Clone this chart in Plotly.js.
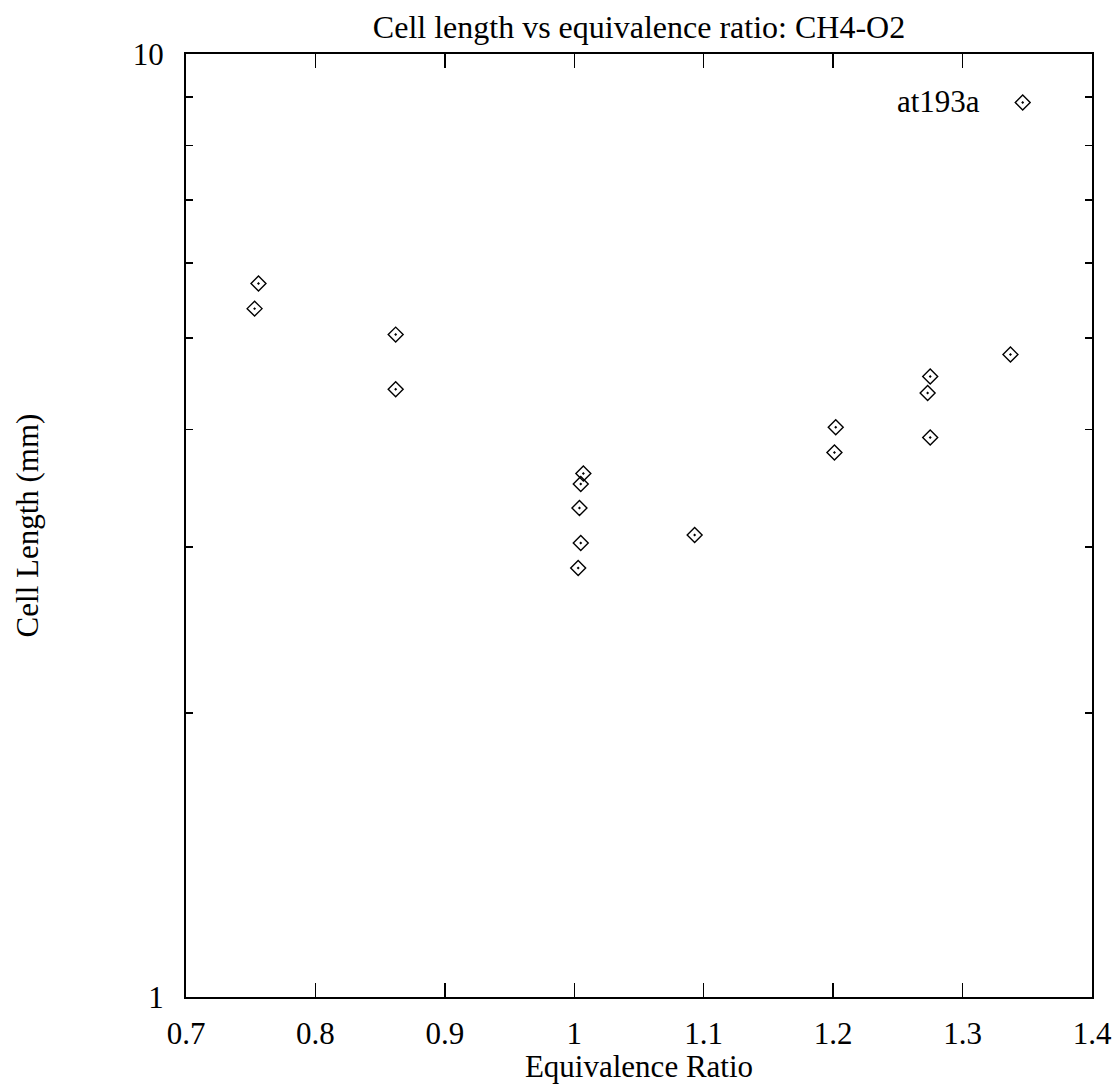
<!DOCTYPE html>
<html>
<head>
<meta charset="utf-8">
<script src="https://cdn.plot.ly/plotly-3.0.1.min.js"></script>
<style>html,body{margin:0;padding:0;background:#fff;}#chart{width:1119px;height:1084px;}</style>
</head>
<body>
<div id="chart"></div>
<script>
// Data
const seriesName = "at193a";
const equivalenceRatio = [0.756, 0.753, 0.862, 0.862, 1.007, 1.005, 1.004, 1.005, 1.003, 1.093, 1.337, 1.275, 1.273, 1.202, 1.201, 1.275];
const cellLength =       [5.71, 5.37, 5.04, 4.41, 3.59, 3.50, 3.30, 3.03, 2.85, 3.09, 4.80, 4.55, 4.37, 4.02, 3.78, 3.92];
const xTickVals = [0.7, 0.8, 0.9, 1.0, 1.1, 1.2, 1.3, 1.4];
const xTickText = ["0.7", "0.8", "0.9", "1", "1.1", "1.2", "1.3", "1.4"];
const yTickVals = [1, 10];
const yTickText = ["1", "10"];
const yMinorVals = [2, 3, 4, 5, 6, 7, 8, 9];

const FONT = "Liberation Serif, Times New Roman, serif";

const trace = {
  x: equivalenceRatio,
  y: cellLength,
  type: "scatter",
  mode: "markers",
  name: seriesName,
  marker: {symbol: "diamond-open-dot", size: 11.5, color: "#000", line: {width: 1.4, color: "#000"}},
  showlegend: true
};

const layout = {
  width: 1119, height: 1084,
  margin: {l: 186, r: 27, t: 54, b: 87},
  paper_bgcolor: "#fff", plot_bgcolor: "#fff",
  font: {family: FONT, size: 31, color: "#000"},
  title: {text: "Cell length vs equivalence ratio: CH4-O2", font: {family: FONT, size: 32, color: "#000"},
          x: 0.5, xref: "paper", y: 1 - 27/1084, yref: "container", yanchor: "middle"},
  xaxis: {
    range: [0.7, 1.4], tickmode: "array", tickvals: xTickVals, ticktext: xTickText,
    ticks: "inside", ticklen: 14, tickwidth: 1.5, tickcolor: "#000",
    showline: true, linewidth: 2, linecolor: "#000", mirror: "ticks",
    showgrid: false, zeroline: false, ticklabelstandoff: 8,
    title: {text: "Equivalence Ratio", font: {family: FONT, size: 31}, standoff: 0}
  },
  yaxis: {
    type: "log", range: [0, 1], tickmode: "array", tickvals: yTickVals, ticktext: yTickText,
    ticks: "inside", ticklen: 14, tickwidth: 1.5, tickcolor: "#000",
    showline: true, linewidth: 2, linecolor: "#000", mirror: "ticks",
    showgrid: false, zeroline: false, ticklabelstandoff: 14,
    minor: {tickmode: "array", tickvals: yMinorVals, ticks: "inside", ticklen: 7, tickwidth: 1.5, tickcolor: "#000", showgrid: false},
    title: {text: "Cell Length (mm)", font: {family: FONT, size: 31}, standoff: 85}
  },
  showlegend: true,
  legend: {x: (1002.7 - 186) / 906, y: (997 - 88) / 943, xanchor: "left", yanchor: "top", bgcolor: "rgba(0,0,0,0)",
           font: {family: FONT, size: 10, color: "rgba(0,0,0,0)"}},
  annotations: [{
    text: seriesName, xref: "paper", yref: "paper", x: (982 - 186) / 906, y: (997 - 101) / 943,
    xanchor: "right", yanchor: "middle", showarrow: false, font: {family: FONT, size: 31, color: "#000"}
  }]
};

Plotly.newPlot("chart", [trace], layout, {displayModeBar: false, staticPlot: true});
</script>
</body>
</html>
